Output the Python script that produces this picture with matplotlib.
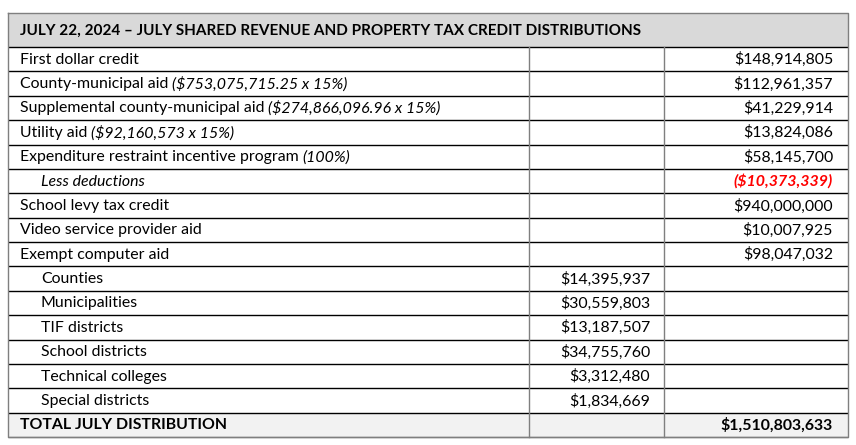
import matplotlib.pyplot as plt
from matplotlib.patches import Rectangle

title = "JULY 22, 2024 \u2013 JULY SHARED REVENUE AND PROPERTY TAX CREDIT DISTRIBUTIONS"
labels = ["First dollar credit", "County-municipal aid", "Supplemental county-municipal aid",
          "Utility aid", "Expenditure restraint incentive program", "Less deductions",
          "School levy tax credit", "Video service provider aid", "Exempt computer aid",
          "Counties", "Municipalities", "TIF districts", "School districts",
          "Technical colleges", "Special districts", "TOTAL JULY DISTRIBUTION"]
notes = ["", "($753,075,715.25 x 15%)", "($274,866,096.96 x 15%)", "($92,160,573 x 15%)",
         "(100%)", "", "", "", "", "", "", "", "", "", "", ""]
indent = [0, 0, 0, 0, 0, 1, 0, 0, 0, 1, 1, 1, 1, 1, 1, 0]
sub_amounts = ["", "", "", "", "", "", "", "", "", "$14,395,937", "$30,559,803",
               "$13,187,507", "$34,755,760", "$3,312,480", "$1,834,669", ""]
amounts = ["$148,914,805", "$112,961,357", "$41,229,914", "$13,824,086", "$58,145,700",
           "($10,373,339)", "$940,000,000", "$10,007,925", "$98,047,032",
           "", "", "", "", "", "", "$1,510,803,633"]

W, H = 856, 445
fig = plt.figure(figsize=(W / 100, H / 100), dpi=100)
ax = fig.add_axes([0, 0, 1, 1])
ax.set_xlim(0, W)
ax.set_ylim(H, 0)
ax.axis("off")

font = "Lato"
fs = 11.4
left, right = 8, 848
c1, c2 = 529, 664
top, head_bot = 13, 47
row_h = (437 - head_bot) / len(labels)
dark = "#000000"
grey = "#7f7f7f"

# header
ax.add_patch(Rectangle((left, top), right - left, head_bot - top, fc="#d9d9d9", ec="none"))
ax.text(left + 12, (top + head_bot) / 2 + 1, title, fontsize=11.0, fontweight="bold",
        family=font, va="center", ha="left")

fig.canvas.draw()
renderer = fig.canvas.get_renderer()

for i, lab in enumerate(labels):
    y0 = head_bot + i * row_h
    yc = y0 + row_h / 2 + 0.5
    total = i == len(labels) - 1
    if total:
        ax.add_patch(Rectangle((left, y0), right - left, row_h, fc="#f2f2f2", ec="none"))
    wt = "bold" if total else "normal"
    st = "italic" if lab == "Less deductions" else "normal"
    x = left + 12 + indent[i] * 21
    t = ax.text(x, yc, lab, fontsize=fs, family=font, fontweight=wt, fontstyle=st,
                va="center", ha="left")
    if notes[i]:
        bb = t.get_window_extent(renderer)
        x2 = bb.x1 + 4
        ax.text(x2, yc, notes[i], fontsize=fs, family=font, fontstyle="italic",
                va="center", ha="left")
    if sub_amounts[i]:
        ax.text(c2 - 14, yc, sub_amounts[i], fontsize=fs, family=font, va="center", ha="right")
    if amounts[i]:
        neg = amounts[i].startswith("(")
        ax.text(right - 15, yc, amounts[i], fontsize=fs, family=font,
                fontweight="bold" if (neg or total) else "normal",
                fontstyle="italic" if neg else "normal",
                color="#ff0000" if neg else "black", va="center", ha="right")

# horizontal rules
for i in range(len(labels) + 1):
    y = head_bot + i * row_h
    col = dark if i < len(labels) else grey
    ax.plot([left, right], [y, y], color=col, lw=1.0, solid_capstyle="butt")
# vertical rules
for x in (c1, c2):
    ax.plot([x, x], [head_bot, head_bot + len(labels) * row_h], color=grey, lw=1.0)
ax.plot([left, right, right, left, left], [top, top, 437, 437, top], color=grey, lw=1.0)

fig.savefig("out.png", dpi=100)
